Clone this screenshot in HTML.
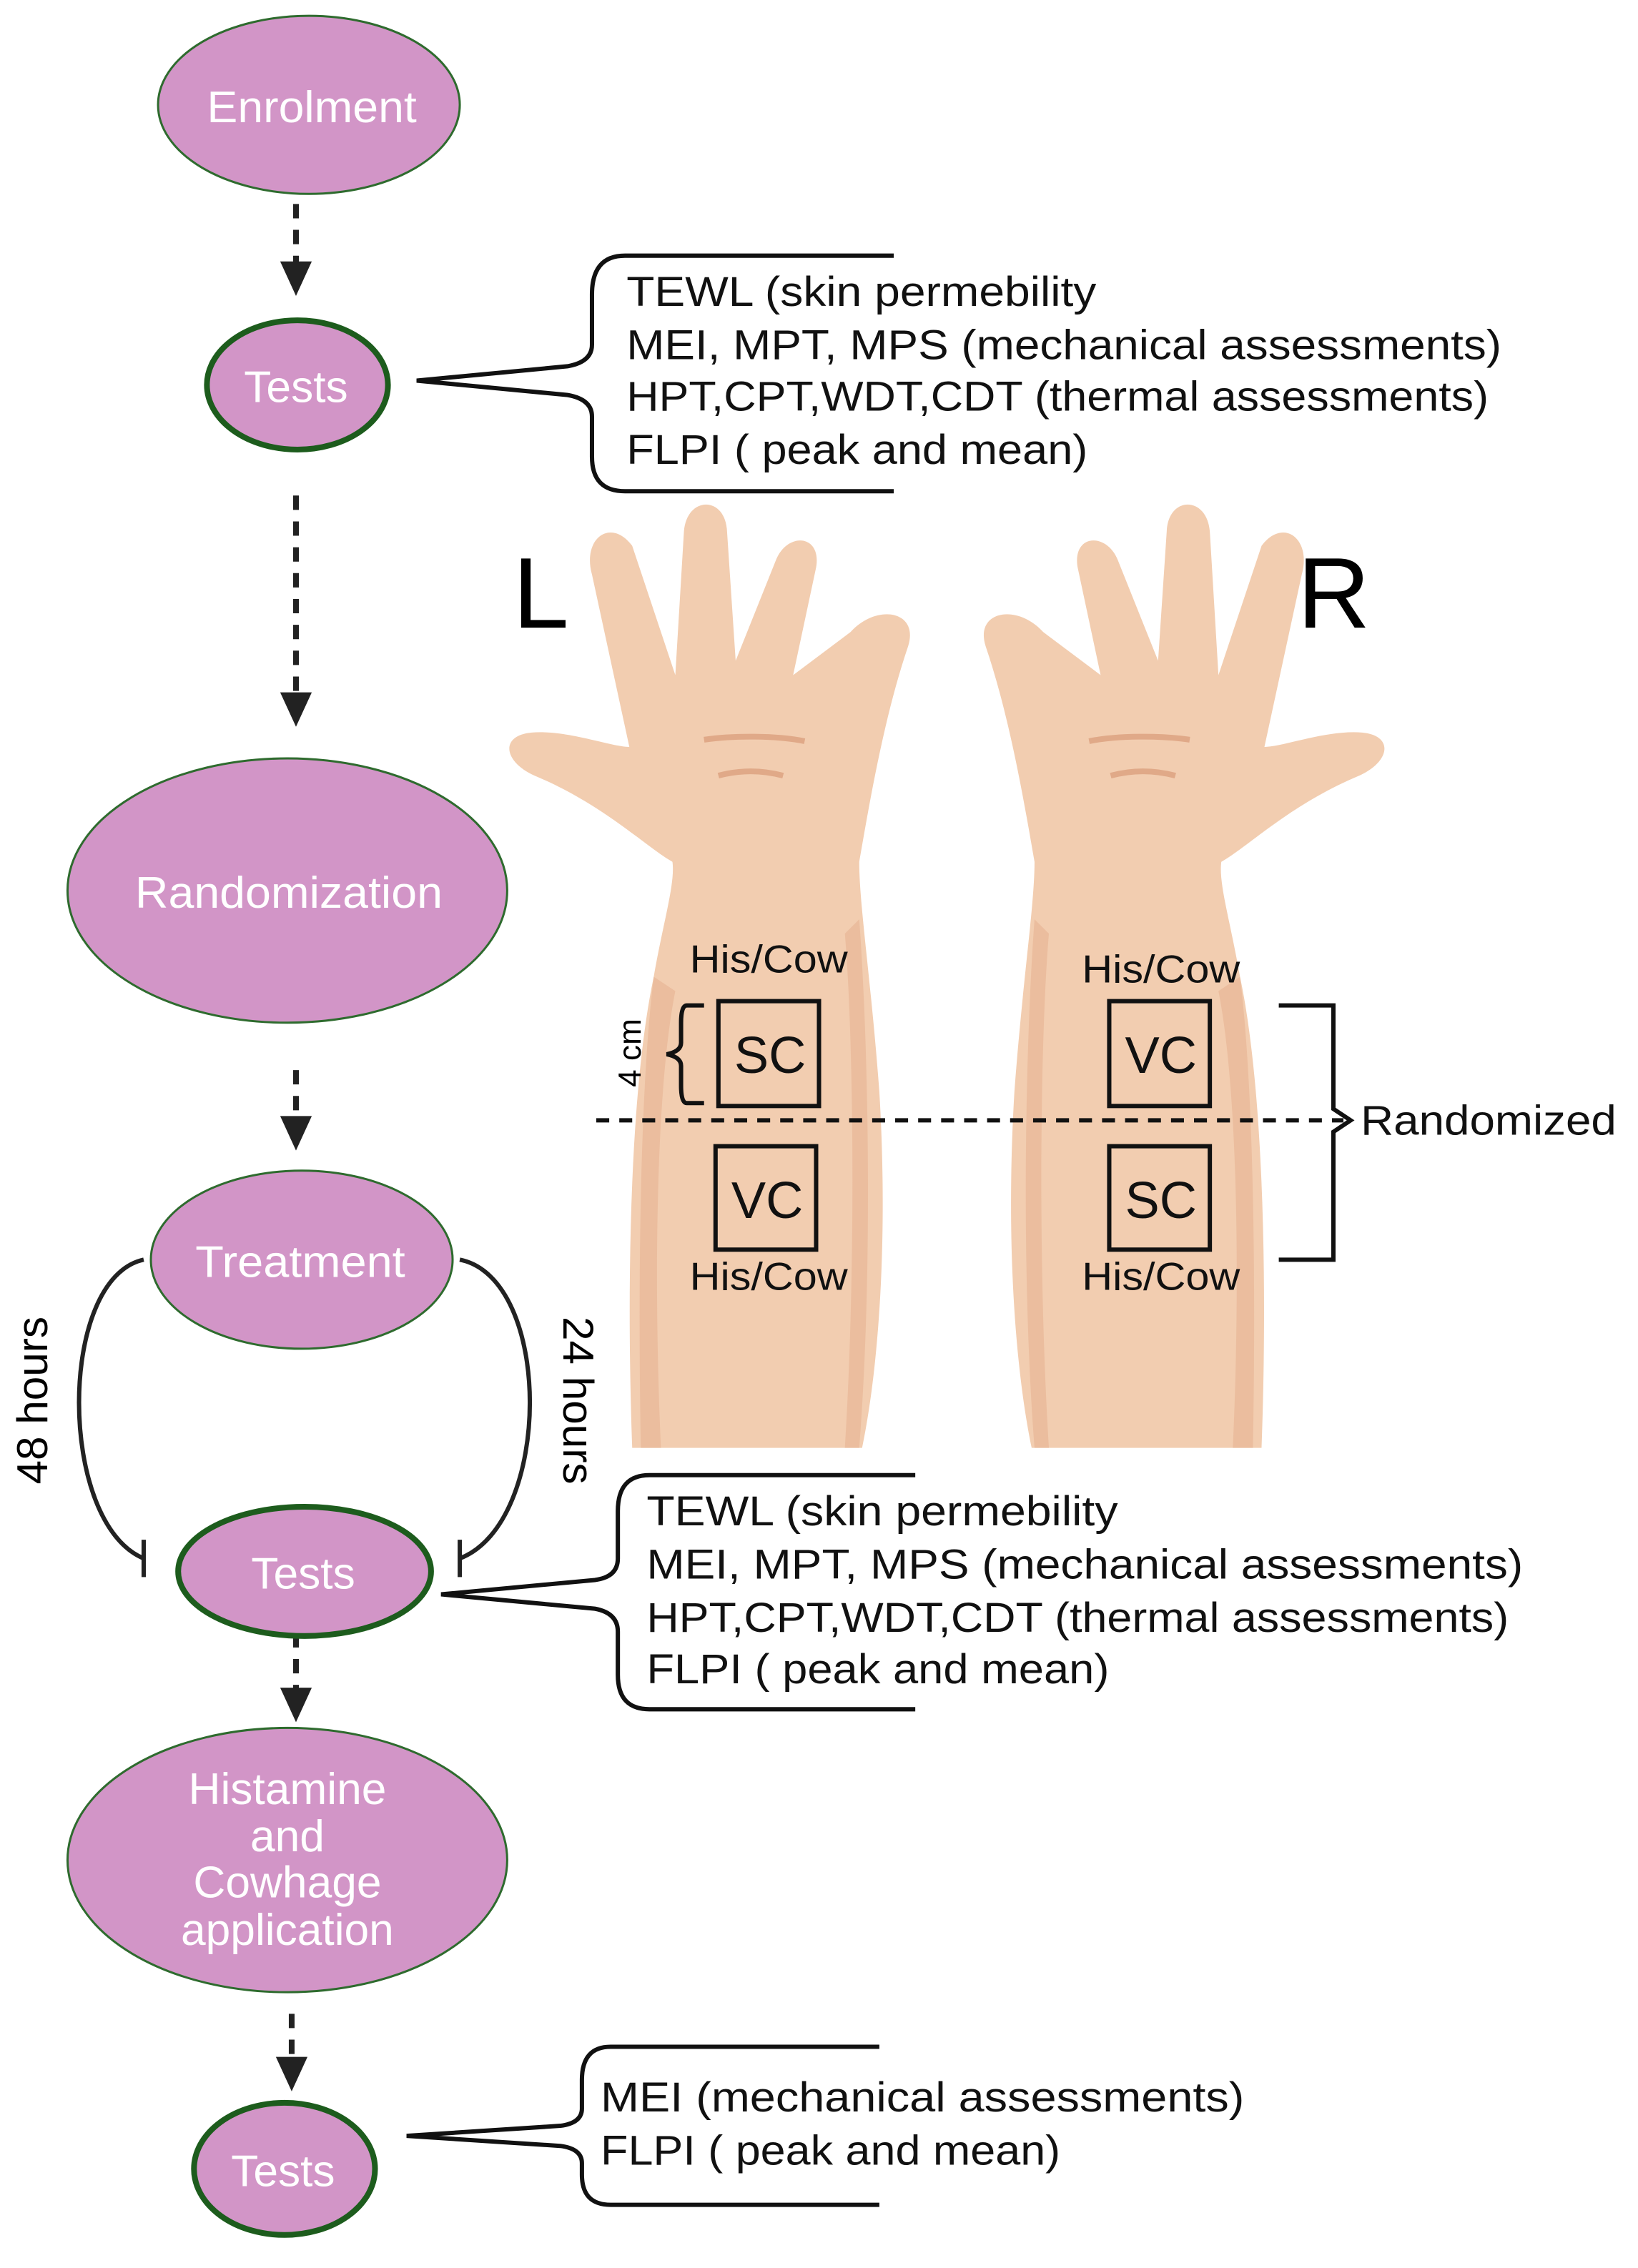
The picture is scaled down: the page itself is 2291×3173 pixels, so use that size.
<!DOCTYPE html>
<html><head><meta charset="utf-8"><style>
html,body{margin:0;padding:0;background:#fff;}
svg{display:block;}
text{font-family:"Liberation Sans",sans-serif;}
</style></head><body>
<svg width="2291" height="3173" viewBox="0 0 1140 1579" preserveAspectRatio="none" xmlns="http://www.w3.org/2000/svg">
<defs>
<g id="hand">
  <path d="M440,1008 C436,900 438,760 455,680 C462,640 470,615 468,600 C450,590 420,560 372,540 C350,530 348,512 370,510 C395,508 425,520 438,520 L412,400 C405,375 425,360 440,380 L470,470 L476,370 C478,345 505,345 506,370 L512,460 L540,390 C548,370 572,372 568,395 L552,470 L592,440 C610,420 640,425 632,450 C615,500 605,560 598,600 C598,630 606,680 612,760 C618,860 612,950 600,1008 Z" fill="#f2cdb0"/>
  <path d="M455,680 C445,760 444,900 446,1008 L460,1008 C455,900 456,760 470,690 Z" fill="#e8b797" opacity="0.7"/>
  <path d="M598,640 C604,720 608,880 598,1008 L588,1008 C596,880 594,720 588,650 Z" fill="#e8b797" opacity="0.7"/>
  <path d="M490,515 C510,512 540,512 560,516" stroke="#e0a988" stroke-width="4" fill="none"/>
  <path d="M500,540 C515,536 530,536 545,540" stroke="#e0a988" stroke-width="4" fill="none"/>
</g>
</defs>

<use href="#hand"/>
<use href="#hand" transform="translate(1318,0) scale(-1,1)"/>
<text x="357" y="437" font-size="70">L</text>
<text x="903" y="437" font-size="70">R</text>

<g fill="none" stroke="#111" stroke-width="3">
<rect x="500" y="697" width="70" height="73"/>
<rect x="498" y="798" width="70" height="72"/>
<rect x="772" y="697" width="70" height="73"/>
<rect x="772" y="798" width="70" height="72"/>
</g>
<g font-size="36" text-anchor="middle" fill="#111">
<text x="536" y="747">SC</text>
<text x="534" y="848">VC</text>
<text x="808" y="747">VC</text>
<text x="808" y="848">SC</text>
</g>
<g font-size="27" text-anchor="middle" fill="#111">
<text x="535" y="677" textLength="110" lengthAdjust="spacingAndGlyphs">His/Cow</text>
<text x="808" y="684" textLength="110" lengthAdjust="spacingAndGlyphs">His/Cow</text>
<text x="535" y="898" textLength="110" lengthAdjust="spacingAndGlyphs">His/Cow</text>
<text x="808" y="898" textLength="110" lengthAdjust="spacingAndGlyphs">His/Cow</text>
</g>
<text x="440" y="733" font-size="22" text-anchor="middle" transform="rotate(-90 440 733)" dominant-baseline="middle">4 cm</text>
<path d="M490,700 L478,700 Q474,700 474,712 L474,726 Q474,732 464,734 Q474,736 474,742 L474,756 Q474,768 478,768 L490,768" fill="none" stroke="#111" stroke-width="3"/>
<line x1="415" y1="780" x2="935" y2="780" stroke="#111" stroke-width="3" stroke-dasharray="9,7"/>
<path d="M890,700 L928,700 L928,772 L940,780 L928,788 L928,877 L890,877" fill="none" stroke="#111" stroke-width="3"/>
<text x="947" y="790" font-size="29" fill="#111" textLength="178" lengthAdjust="spacingAndGlyphs">Randomized</text>

<g stroke="#222" stroke-width="4" stroke-dasharray="10,8" fill="none">
<line x1="206" y1="142" x2="206" y2="185"/>
<line x1="206" y1="345" x2="206" y2="485"/>
<line x1="206" y1="745" x2="206" y2="780"/>
<line x1="206" y1="1137" x2="206" y2="1178"/>
<line x1="203" y1="1402" x2="203" y2="1435"/>
</g>
<g fill="#222">
<polygon points="195,182 217,182 206,206"/>
<polygon points="195,482 217,482 206,506"/>
<polygon points="195,777 217,777 206,801"/>
<polygon points="195,1175 217,1175 206,1199"/>
<polygon points="192,1432 214,1432 203,1456"/>
</g>

<g fill="#d295c7">
<ellipse cx="215" cy="73" rx="105" ry="62" stroke="#2e6b2e" stroke-width="1.5"/>
<ellipse cx="207" cy="268" rx="63" ry="45" stroke="#1d5c1d" stroke-width="4"/>
<ellipse cx="200" cy="620" rx="153" ry="92" stroke="#2e6b2e" stroke-width="1.5"/>
<ellipse cx="210" cy="877" rx="105" ry="62" stroke="#2e6b2e" stroke-width="1.5"/>
<ellipse cx="212" cy="1094" rx="88" ry="45" stroke="#1d5c1d" stroke-width="4"/>
<ellipse cx="200" cy="1295" rx="153" ry="92" stroke="#2e6b2e" stroke-width="1.5"/>
<ellipse cx="198" cy="1510" rx="63" ry="46" stroke="#1d5c1d" stroke-width="4"/>
</g>
<g fill="#fff" font-size="31" text-anchor="middle">
<text x="217" y="85" textLength="146" lengthAdjust="spacingAndGlyphs">Enrolment</text>
<text x="206" y="280">Tests</text>
<text x="201" y="632" textLength="214" lengthAdjust="spacingAndGlyphs">Randomization</text>
<text x="209" y="889" textLength="146" lengthAdjust="spacingAndGlyphs">Treatment</text>
<text x="211" y="1106">Tests</text>
<text x="200" y="1256">Histamine</text>
<text x="200" y="1289">and</text>
<text x="200" y="1321">Cowhage</text>
<text x="200" y="1354">application</text>
<text x="197" y="1522">Tests</text>
</g>

<g fill="none" stroke="#222" stroke-width="3">
<path d="M100,877 C40,890 40,1060 100,1085"/>
<line x1="100" y1="1072" x2="100" y2="1098"/>
<path d="M320,877 C385,890 385,1060 320,1085"/>
<line x1="320" y1="1072" x2="320" y2="1098"/>
</g>
<text x="25" y="975" font-size="30" text-anchor="middle" transform="rotate(-90 25 975)" dominant-baseline="middle">48 hours</text>
<text x="400" y="975" font-size="30" text-anchor="middle" transform="rotate(90 400 975)" dominant-baseline="middle">24 hours</text>

<g fill="none" stroke="#111" stroke-width="3">
<path d="M622,178 L435,178 Q412,178 412,205 L412,240 Q412,252 395,255 L290,265 L395,275 Q412,278 412,290 L412,318 Q412,342 435,342 L622,342"/>
<path d="M637,1027 L452,1027 Q430,1027 430,1052 L430,1085 Q430,1098 414,1100 L307,1110 L414,1120 Q430,1123 430,1136 L430,1166 Q430,1190 452,1190 L637,1190"/>
<path d="M612,1425 L425,1425 Q405,1425 405,1448 L405,1468 Q405,1478 390,1480 L283,1487 L390,1494 Q405,1496 405,1506 L405,1514 Q405,1535 425,1535 L612,1535"/>
</g>
<g font-size="29" fill="#111" lengthAdjust="spacingAndGlyphs">
<text x="436" y="213" textLength="327" lengthAdjust="spacingAndGlyphs">TEWL (skin permebility</text>
<text x="436" y="250" textLength="609" lengthAdjust="spacingAndGlyphs">MEI, MPT, MPS (mechanical assessments)</text>
<text x="436" y="286" textLength="600" lengthAdjust="spacingAndGlyphs">HPT,CPT,WDT,CDT (thermal assessments)</text>
<text x="436" y="323" textLength="321" lengthAdjust="spacingAndGlyphs">FLPI ( peak and mean)</text>
<text x="450" y="1062" textLength="328" lengthAdjust="spacingAndGlyphs">TEWL (skin permebility</text>
<text x="450" y="1099" textLength="610" lengthAdjust="spacingAndGlyphs">MEI, MPT, MPS (mechanical assessments)</text>
<text x="450" y="1136" textLength="600" lengthAdjust="spacingAndGlyphs">HPT,CPT,WDT,CDT (thermal assessments)</text>
<text x="450" y="1172" textLength="322" lengthAdjust="spacingAndGlyphs">FLPI ( peak and mean)</text>
<text x="418" y="1470" textLength="448" lengthAdjust="spacingAndGlyphs">MEI (mechanical assessments)</text>
<text x="418" y="1507" textLength="320" lengthAdjust="spacingAndGlyphs">FLPI ( peak and mean)</text>
</g>
</svg>
</body></html>
